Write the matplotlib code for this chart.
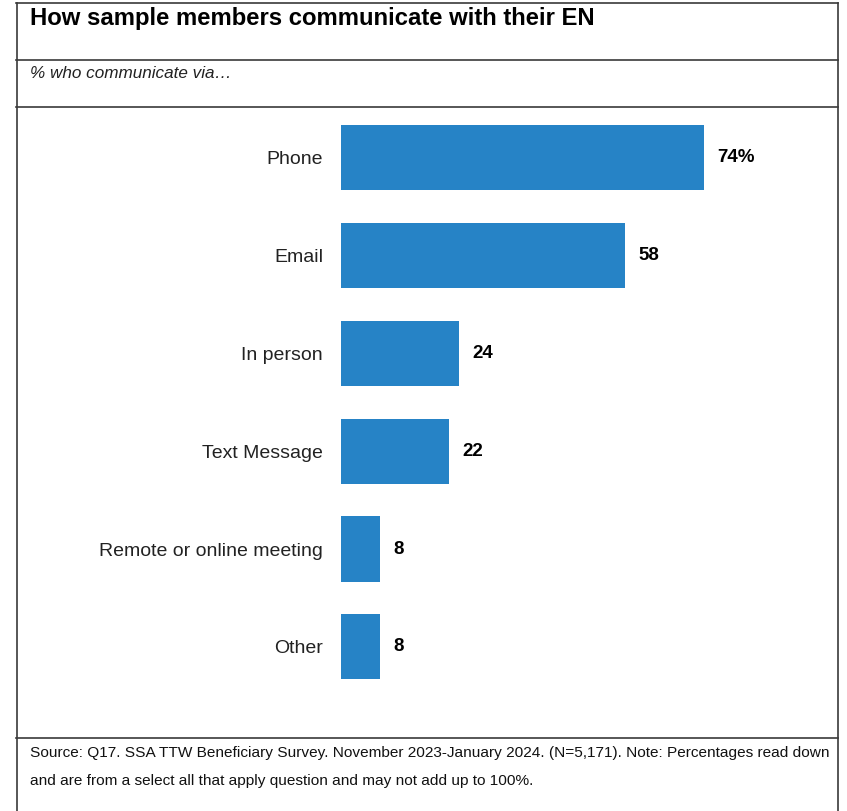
import matplotlib.pyplot as plt
from matplotlib.lines import Line2D

categories = ["Phone", "Email", "In person", "Text Message", "Remote or online meeting", "Other"]
values = [74, 58, 24, 22, 8, 8]
value_labels = ["74%", "58", "24", "22", "8", "8"]

title = "How sample members communicate with their EN"
subtitle = "% who communicate via\u2026"
note_lines = ["Source: Q17. SSA TTW Beneficiary Survey. November 2023-January 2024. (N=5,171). Note: Percentages read down",
              "and are from a select all that apply question and may not add up to 100%."]

W, H = 847, 811
BAR_COLOR = "#2683C6"
LINE_COLOR = "#3a3a3a"

plt.rcParams['font.family'] = ['Liberation Sans', 'DejaVu Sans']

fig = plt.figure(figsize=(W / 100, H / 100), dpi=100)


def fx(px):
    return px / W


def fy(py):
    return 1 - py / H


# table-like frame around the chart
for y in [3, 60, 107, 738]:
    fig.add_artist(Line2D([fx(16), fx(838)], [fy(y), fy(y)], color=LINE_COLOR, lw=1.2))
for x in [16.5, 837.5]:
    fig.add_artist(Line2D([fx(x), fx(x)], [fy(3), fy(811)], color=LINE_COLOR, lw=1.2))

fig.text(fx(30), fy(19), title, fontsize=17.2, fontweight='bold', va='center', ha='left')
fig.text(fx(30), fy(74), subtitle, fontsize=12.3, style='italic', va='center', ha='left', color='#222222')

for i, line in enumerate(note_lines):
    fig.text(fx(30), fy(753 + 27.5 * i), line, fontsize=11.1,
             va='center', ha='left', color='#111111')

# bar area
ax_left, ax_right = 341, 831.5
ax_top, ax_bottom = 108.7, 695.8
ax = fig.add_axes([fx(ax_left), fy(ax_bottom), fx(ax_right - ax_left), (ax_bottom - ax_top) / H])
pos = list(range(len(categories)))
ax.barh(pos, values, height=0.665, color=BAR_COLOR)
ax.set_xlim(0, 100)
ax.set_ylim(len(categories) - 0.5, -0.5)
ax.set_yticks(pos)
ax.set_yticklabels(categories, fontsize=14.0, color='#222222')
ax.tick_params(axis='y', length=0, pad=13)
ax.set_xticks([])
for s in ax.spines.values():
    s.set_visible(False)

for p, v, lab in zip(pos, values, value_labels):
    ax.text(v + 2.7, p, lab, fontsize=13.5, fontweight='bold', va='center', ha='left')

fig.savefig("out.png", dpi=100)
